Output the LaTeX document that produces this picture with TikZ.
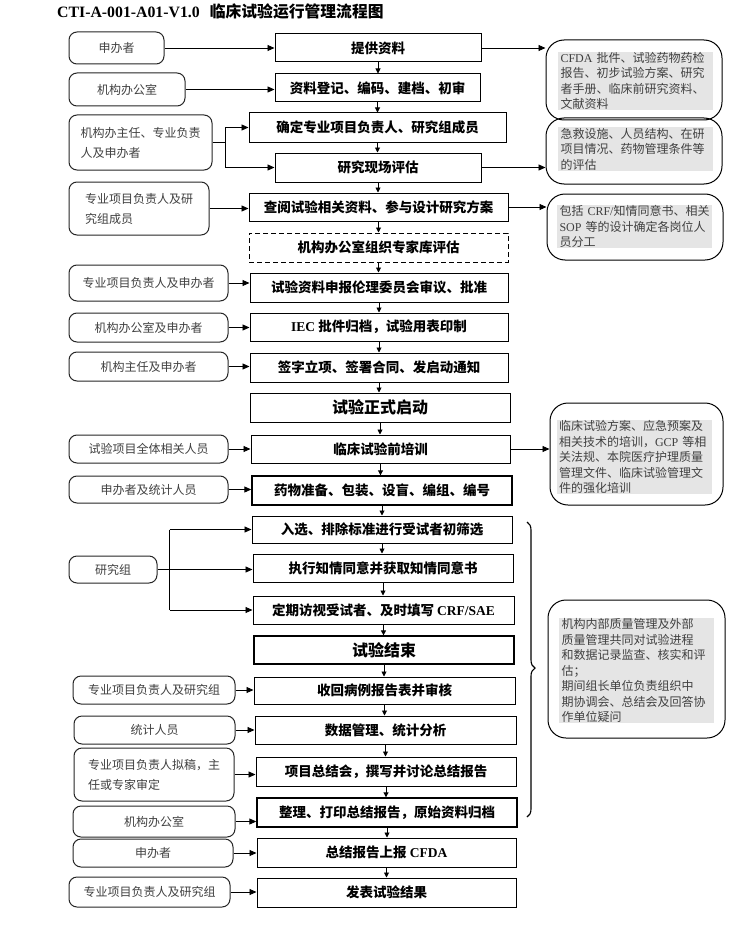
\documentclass[tikz,border=0pt]{standalone}
\usepackage{fontspec}
\setmainfont{Liberation Serif}
\newfontfamily\cjk{Noto Sans CJK SC}
\usetikzlibrary{arrows.meta,decorations.pathreplacing,calc}
\newcommand{\en}[1]{{\rmfamily #1}}
\newcommand{\placebox}[7]{\node[#1, minimum width={(#5-#3)*1pt}, minimum height={(#6-#4)*1pt}] (#2) at ({(#3+#5)/2},{(#4+#6)/2}) {#7};}
\begin{document}
\begin{tikzpicture}[x=1pt,y=-1pt,
  mainbox/.style={draw=black, line width=1pt, inner sep=0pt, font=\fontsize{13.5}{16}\selectfont\cjk\bfseries, text=black},
  bigbox/.style={mainbox, font=\fontsize{16}{18}\selectfont\cjk\bfseries},
  lbox/.style={draw=black!85, line width=1pt, rounded corners=8pt, inner sep=0pt, align=left, font=\fontsize{12}{20}\selectfont\cjk, text=black!75},
  rbox/.style={draw=black, line width=1pt, rounded corners=18pt, inner sep=0pt},
  rtext/.style={fill=black!10, inner xsep=2.5pt, inner ysep=0.5pt, text width=150pt, align=left, font=\fontsize{12}{15.5}\selectfont\cjk, text=black!75},
  arr/.style={-{Triangle[length=7pt,width=6pt]}, line width=0.9pt},
  darr/.style={-{Triangle[length=5pt,width=5pt]}, line width=0.9pt},
  ]
\fill[white] (0,0) rectangle (730,939);
\useasboundingbox (0,0) rectangle (730,939);

\node[anchor=west, inner sep=0pt, font=\fontsize{15.8}{18}\selectfont\bfseries] (title) at (57,12) {CTI-A-001-A01-V1.0\hspace{10pt}{\cjk 临床试验运行管理流程图}};

% main column
\placebox{mainbox}{b1}{275}{34}{481}{62}{提供资料}
\placebox{mainbox}{b2}{275}{74}{480}{102}{资料登记、编码、建档、初审}
\placebox{mainbox}{b3}{249}{113}{506}{142}{确定专业项目负责人、研究组成员}
\placebox{mainbox}{b4}{275}{153}{481}{182}{研究现场评估}
\placebox{mainbox}{b5}{249}{193}{508}{221}{查阅试验相关资料、参与设计研究方案}
\placebox{mainbox,dash pattern=on 5pt off 3pt}{b6}{249}{233}{508}{262}{机构办公室组织专家库评估}
\placebox{mainbox}{b7}{250}{273}{508}{302}{试验资料申报伦理委员会审议、批准}
\placebox{mainbox}{b8}{250}{313}{508}{341}{\en{IEC} 批件归档，试验用表印制}
\placebox{mainbox}{b9}{250}{353}{508}{382}{签字立项、签署合同、发启动通知}
\placebox{bigbox}{b10}{250}{393}{510}{422}{试验正式启动}
\placebox{mainbox}{b11}{251}{435}{510}{463}{临床试验前培训}
\placebox{mainbox,line width=1.4pt}{b12}{252}{476}{512}{505}{药物准备、包装、设盲、编组、编号}
\placebox{mainbox}{b13}{252}{516}{512}{543}{入选、排除标准进行受试者初筛选}
\placebox{mainbox}{b14}{253}{554}{513}{582}{执行知情同意并获取知情同意书}
\placebox{mainbox}{b15}{253}{596}{514}{624}{定期访视受试者、及时填写 \en{CRF/SAE}}
\placebox{bigbox,line width=1.2pt}{b16}{254}{636}{514}{664}{试验结束}
\placebox{mainbox}{b17}{254}{677}{515}{704}{收回病例报告表并审核}
\placebox{mainbox}{b18}{255}{716}{516}{744}{数据管理、统计分析}
\placebox{mainbox}{b19}{256}{757}{516}{786}{项目总结会，撰写并讨论总结报告}
\placebox{mainbox,line width=1.4pt}{b20}{257}{798}{517}{827}{整理、打印总结报告，原始资料归档}
\placebox{mainbox}{b21}{257}{838}{516}{867}{总结报告上报 \en{CFDA}}
\placebox{mainbox}{b22}{257}{878}{516}{907}{发表试验结果}

\foreach \i [evaluate=\i as \j using int(\i+1)] in {1,...,21}
  \draw[darr] (b\i.south) -- (b\i.south |- b\j.north);

% left column
\placebox{lbox}{L1}{69}{32}{164}{64}{申办者}
\placebox{lbox}{L2}{69}{73}{185}{106}{机构办公室}
\placebox{lbox}{L3}{69}{115}{212}{170}{机构办主任、专业负责\\人及申办者}
\placebox{lbox}{L4}{69}{182}{209}{235}{专业项目负责人及研\\究组成员}
\placebox{lbox}{L5}{69}{265}{228}{301}{专业项目负责人及申办者}
\placebox{lbox}{L6}{69}{313}{228}{342}{机构办公室及申办者}
\placebox{lbox}{L7}{69}{352}{228}{381}{机构主任及申办者}
\placebox{lbox}{L8}{69}{435}{228}{463}{试验项目全体相关人员}
\placebox{lbox}{L9}{69}{476}{228}{503}{申办者及统计人员}
\placebox{lbox}{L10}{69}{556}{157}{583}{研究组}
\placebox{lbox}{L11}{73}{676}{235}{704}{专业项目负责人及研究组}
\placebox{lbox}{L12}{74}{716}{235}{744}{统计人员}
\placebox{lbox}{L13}{74}{748}{234}{801}{专业项目负责人拟稿，主\\任或专家审定}
\placebox{lbox}{L14}{73}{806}{235}{837}{机构办公室}
\placebox{lbox}{L15}{73}{839}{233}{867}{申办者}
\placebox{lbox}{L16}{69}{877}{230}{907}{专业项目负责人及研究组}

\draw[arr] (L1.east) -- (L1.east -| b1.west);
\draw[arr] (L2.east) -- (L2.east -| b2.west);
\coordinate (f1) at ($(L3.east)+(13,0)$);
\draw[line width=0.9pt] (L3.east) -- (f1);
\draw[line width=0.9pt] (f1 |- b3.west) -- (f1 |- b4.west);
\draw[arr] (f1 |- b3.west) -- (b3.west);
\draw[arr] (f1 |- b4.west) -- (b4.west);
\draw[arr] (L4.east) -- (L4.east -| b5.west);
\draw[arr] (L5.east) -- (L5.east -| b7.west);
\draw[arr] (L6.east) -- (L6.east -| b8.west);
\draw[arr] (L7.east) -- (L7.east -| b9.west);
\draw[arr] (L8.east) -- (L8.east -| b11.west);
\draw[arr] (L9.east) -- (L9.east -| b12.west);
\coordinate (f2) at ($(L10.east)+(12,0)$);
\draw[arr] (L10.east) -- (L10.east -| b14.west);
\draw[line width=0.9pt] (f2 |- b13.west) -- (f2 |- b15.west);
\draw[arr] (f2 |- b13.west) -- (b13.west);
\draw[arr] (f2 |- b15.west) -- (b15.west);
\draw[arr] (L11.east) -- (L11.east -| b17.west);
\draw[arr] (L12.east) -- (L12.east -| b18.west);
\draw[arr] (L13.east) -- (L13.east -| b19.west);
\draw[arr] (L14.east) -- (L14.east -| b20.west);
\draw[arr] (L15.east) -- (L15.east -| b21.west);
\draw[arr] (L16.east) -- (L16.east -| b22.west);

% right column
\placebox{rbox}{R1}{546}{40}{722}{120}{}
\placebox{rbox}{R2}{546}{118}{722}{184}{}
\placebox{rbox}{R3}{547}{194}{723}{260}{}
\placebox{rbox}{R4}{550}{403}{723}{505}{}
\placebox{rbox}{R5}{548}{600}{725}{738}{}
\node[rtext] (R1t) at (635.5,81) {\en{CFDA}~批件、试验药物药检\\报告、初步试验方案、研究\\者手册、临床前研究资料、\\文献资料};
\node[rtext] (R2t) at (635.5,149) {急救设施、人员结构、在研\\项目情况、药物管理条件等\\的评估};
\node[rtext] (R3t) at (634.5,226.5) {\mbox{包括~\en{CRF/}知情同意书、相关}\\\mbox{\en{SOP}~等的设计确定各岗位人}\\员分工};
\node[rtext] (R4t) at (634,457) {临床试验方案、应急预案及\\\mbox{相关技术的培训，\en{GCP}~等相}\\关法规、本院医疗护理质量\\管理文件、临床试验管理文\\件的强化培训};
\node[rtext] (R5t) at (636.5,670.5) {机构内部质量管理及外部\\质量管理共同对试验进程\\和数据记录监查、核实和评\\估；\\期间组长单位负责组织中\\期协调会、总结会及回答协\\作单位疑问};

\draw[arr] (b1.east) -- (b1.east -| R1.west);
\draw[arr] (b4.east) -- (b4.east -| R2.west);
\draw[arr] (b5.east) -- (b5.east -| R3.west);
\draw[arr] (b11.east) -- (b11.east -| R4.west);

% brace
\coordinate (brT) at (527,522);
\coordinate (brB) at (527,817);
\draw[line width=1.1pt, decorate, decoration={brace, amplitude=8pt, aspect=0.495}] (brT) -- (brB);
\end{tikzpicture}
\end{document}
